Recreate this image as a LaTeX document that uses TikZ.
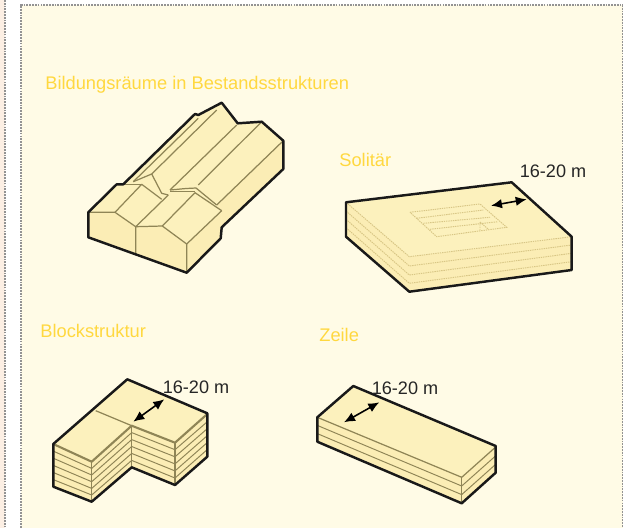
\documentclass[tikz,border=0pt]{standalone}
\usepackage{fontspec}
\setmainfont{Liberation Sans}
\usepackage{xcolor}
\usetikzlibrary{arrows.meta}
\definecolor{panelfill}{HTML}{FFFBE6}
\definecolor{sidefill}{HTML}{FCEFE4}
\definecolor{massfill}{HTML}{FCF1BD}
\definecolor{massside}{HTML}{FBEDB5}
\definecolor{headyellow}{HTML}{FFD83F}
\definecolor{inkolive}{HTML}{8F8556}
\definecolor{inkdots}{HTML}{D8C685}
\tikzset{
  panelborder/.style={
    draw=gray!85, line width=0.7pt, dash pattern=on 1pt off 0.6pt
  },
  headlabel/.style={
    font=\fontsize{10.4pt}{12pt}\selectfont, text=headyellow, anchor=west, inner sep=0pt
  },
  sizelabel/.style={
    font=\fontsize{10.3pt}{12pt}\selectfont, text=black!85, inner sep=0pt
  },
  massoutline/.style={
    draw=black!90, line width=1.4pt, line join=round
  },
  massedge/.style={
    draw=inkolive, line width=0.7pt, line join=round
  },
  masscrease/.style={
    draw=inkolive, line width=1.2pt, line join=round
  },
  layerline/.style={
    draw=inkolive, line width=0.55pt, line join=round
  },
  layerdots/.style={
    draw=inkdots, line width=0.55pt, dash pattern=on 0.8pt off 0.5pt
  },
  sizearrow/.style={
    {Latex[length=2.2mm,width=1.9mm]}-{Latex[length=2.2mm,width=1.9mm]},
    line width=0.9pt, color=black
  },
}
\begin{document}
\begin{tikzpicture}[x=0.02cm, y=-0.02cm]
  \useasboundingbox (0, 0) rectangle (633, 528);
  \clip (0, 0) rectangle (633, 528);

  % Panels
  \fill[sidefill] (0, 0) rectangle (5, 528);
  \draw[panelborder] (5, 0) -- (5, 528);
  \fill[panelfill] (21, 5) rectangle (622.5, 528);
  \draw[panelborder] (21, 528) -- (21, 5) -- (622.5, 5) -- (622.5, 528);

  % Headings
  \node[headlabel] (bestandHead) at (45, 84.5) {Bildungsräume in Bestandsstrukturen};
  \node[headlabel] (solitaerHead) at (339, 160) {Solitär};
  \node[headlabel] (blockHead) at (40, 331) {Blockstruktur};
  \node[headlabel] (zeileHead) at (319, 335) {Zeile};

  % Bestand: gabled houses
  \fill[massfill] (88.3, 212.3) -- (116.7, 184.3) -- (123.3, 184.3) -- (195, 114)
    -- (198.3, 115) -- (221.7, 102.7) -- (237.7, 123.3) -- (261.7, 121.7)
    -- (283.3, 140.7) -- (283.3, 169) -- (221.7, 227.3) -- (220.7, 238.3)
    -- (186.7, 272.7) -- (88.3, 237.3) -- cycle;
  \fill[massside] (88.3, 212.3) -- (115, 212.3) -- (135.7, 226.7) -- (135.7, 253.3)
    -- (88.3, 237.3) -- cycle;
  \fill[massside] (135.7, 226.7) -- (162.3, 226) -- (186.7, 244) -- (186.7, 272.7)
    -- (135.7, 253.3) -- cycle;
  \fill[massside] (186.7, 244) -- (221.7, 210.7) -- (220.7, 238.3) -- (186.7, 272.7) -- cycle;
  \fill[massside] (216.7, 205) -- (283.3, 140.7) -- (283.3, 169) -- (221.7, 227.3)
    -- (221.7, 210.7) -- cycle;
  \draw[massedge] (88.3, 212.3) -- (115, 212.3) -- (135.7, 226.7) -- (135.7, 253.3);
  \draw[massedge] (115, 212.3) -- (141.7, 184.3) -- (161.7, 199.3);
  \draw[massedge] (116.7, 184.3) -- (141.7, 184.3);
  \draw[massedge] (135.7, 226.7) -- (162.3, 226) -- (186.7, 244) -- (186.7, 272.7);
  \draw[massedge] (135.7, 226.7) -- (168.3, 195);
  \draw[massedge] (162.3, 226) -- (195, 192.7) -- (221.7, 210.7);
  \draw[massedge] (186.7, 244) -- (221.7, 210.7);
  \draw[massedge] (170, 191.7) -- (195, 191.7);
  \draw[massedge] (170, 190) -- (186, 188.5) -- (196, 188) -- (216.7, 205);
  \draw[massedge] (133.3, 181.7) -- (151.7, 174) -- (161.7, 193.3) -- (168.3, 195);
  \draw[massedge] (133.3, 181.7) -- (198.3, 118.3);
  \draw[massedge] (151.7, 174) -- (216.7, 110);
  \draw[massedge] (170, 190) -- (236.7, 125);
  \draw[massedge] (198.3, 185) -- (261.7, 121.7);
  \draw[massedge] (216.7, 205) -- (283.3, 140.7);
  \draw[massoutline] (88.3, 212.3) -- (116.7, 184.3) -- (123.3, 184.3) -- (195, 114)
    -- (198.3, 115) -- (221.7, 102.7) -- (237.7, 123.3) -- (261.7, 121.7)
    -- (283.3, 140.7) -- (283.3, 169) -- (221.7, 227.3) -- (220.7, 238.3)
    -- (186.7, 272.7) -- (88.3, 237.3) -- cycle;

  % Solitaer: slab with courtyard
  \fill[massfill] (346, 202.3) -- (511.7, 182.3) -- (571.7, 236.7) -- (409.3, 256.7) -- cycle;
  \fill[massside] (346, 202.3) -- (409.3, 256.7) -- (571.7, 236.7) -- (571.7, 270)
    -- (409.3, 291.7) -- (346, 236.7) -- cycle;
  \draw[layerdots] (346, 202.3) -- (409.3, 256.7) -- (571.7, 236.7);
  \draw[layerdots] (346, 211) -- (409.3, 266) -- (571.7, 245);
  \draw[layerdots] (346, 219.3) -- (409.3, 275) -- (571.7, 253.3);
  \draw[layerdots] (346, 227.7) -- (409.3, 283.3) -- (571.7, 261.7);
  \draw[layerdots] (410, 212.3) -- (480, 204) -- (506.7, 227.3) -- (436.7, 236.7) -- cycle;
  \draw[layerdots] (416.7, 218.3) -- (483.3, 210);
  \draw[layerdots] (423.3, 223.3) -- (490, 217.3);
  \draw[layerdots] (430, 229.3) -- (498, 221.7);
  \draw[layerdots] (480, 222) -- (480, 230) (480, 222) -- (488, 229);
  \draw[massoutline] (346, 202.3) -- (511.7, 182.3) -- (571.7, 236.7) -- (571.7, 270)
    -- (409.3, 291.7) -- (346, 236.7) -- cycle;
  \coordinate (solitaerA) at (491, 205.7);
  \coordinate (solitaerB) at (526.7, 199.3);
  \draw[sizearrow] (solitaerA) -- (solitaerB);
  \node[sizelabel] (solitaerSize) at (553, 171) {16-20 m};

  % Blockstruktur: L-shaped block
  \fill[massfill] (53.3, 444) -- (127.3, 379.3) -- (207.3, 413.3) -- (175, 442.7)
    -- (131.7, 425.7) -- (91.7, 461.7) -- cycle;
  \fill[massside] (53.3, 444) -- (91.7, 461.7) -- (131.7, 425.7) -- (175, 442.7)
    -- (207.3, 413.3) -- (207.3, 456.7) -- (175, 485) -- (131.7, 467.3) -- (91.7, 501.7)
    -- (53.3, 486.7) -- cycle;
  \draw[layerline] (53.3, 451.1) -- (91.7, 468.4) -- (131.7, 432.6) -- (175, 449.7) -- (207, 422);
  \draw[layerline] (53.3, 458.2) -- (91.7, 475) -- (131.7, 439.6) -- (175, 456.8) -- (207, 428.9);
  \draw[layerline] (53.3, 465.4) -- (91.7, 481.7) -- (131.7, 446.5) -- (175, 463.9) -- (207, 435.9);
  \draw[layerline] (53.3, 472.5) -- (91.7, 488.4) -- (131.7, 453.4) -- (175, 470.9) -- (207, 442.8);
  \draw[layerline] (53.3, 479.6) -- (91.7, 495) -- (131.7, 460.4) -- (175, 478) -- (207, 449.8);
  \draw[massedge] (91.7, 461.7) -- (91.7, 501.7);
  \draw[massedge] (131.7, 425.7) -- (131.7, 467.3);
  \draw[massedge] (175, 442.7) -- (175, 485);
  \draw[massedge] (95.7, 410.7) -- (131.7, 425.7);
  \draw[masscrease] (53.3, 444) -- (91.7, 461.7) -- (131.7, 425.7) -- (175, 442.7) -- (207.3, 414);
  \draw[massoutline] (53.3, 444) -- (127.3, 379.3) -- (207.3, 413.3) -- (207.3, 456.7)
    -- (175, 485) -- (131.7, 467.3) -- (91.7, 501.7) -- (53.3, 486.7) -- cycle;
  \coordinate (blockA) at (133.3, 421.7);
  \coordinate (blockB) at (164.3, 399.3);
  \draw[sizearrow] (blockA) -- (blockB);
  \node[sizelabel] (blockSize) at (196, 387) {16-20 m};

  % Zeile: long bar
  \fill[massfill] (317.3, 417.3) -- (353.3, 386) -- (495.7, 446) -- (461.7, 477.3) -- cycle;
  \fill[massside] (317.3, 417.3) -- (461.7, 477.3) -- (495.7, 446) -- (495.7, 472.7)
    -- (461.7, 503.3) -- (317.3, 441.7) -- cycle;
  \draw[layerline] (317.3, 425.4) -- (461.7, 486) -- (495.7, 455.8);
  \draw[layerline] (317.3, 433.6) -- (461.7, 494.6) -- (495.7, 464.3);
  \draw[massedge] (317.3, 417.3) -- (461.7, 477.3) -- (495.7, 447);
  \draw[massedge] (461.7, 477.3) -- (461.7, 503.3);
  \draw[massoutline] (317.3, 417.3) -- (353.3, 386) -- (495.7, 446) -- (495.7, 472.7)
    -- (461.7, 503.3) -- (317.3, 441.7) -- cycle;
  \coordinate (zeileA) at (344, 422.3);
  \coordinate (zeileB) at (379.3, 402.3);
  \draw[sizearrow] (zeileA) -- (zeileB);
  \node[sizelabel] (zeileSize) at (405, 388) {16-20 m};
\end{tikzpicture}
\end{document}
